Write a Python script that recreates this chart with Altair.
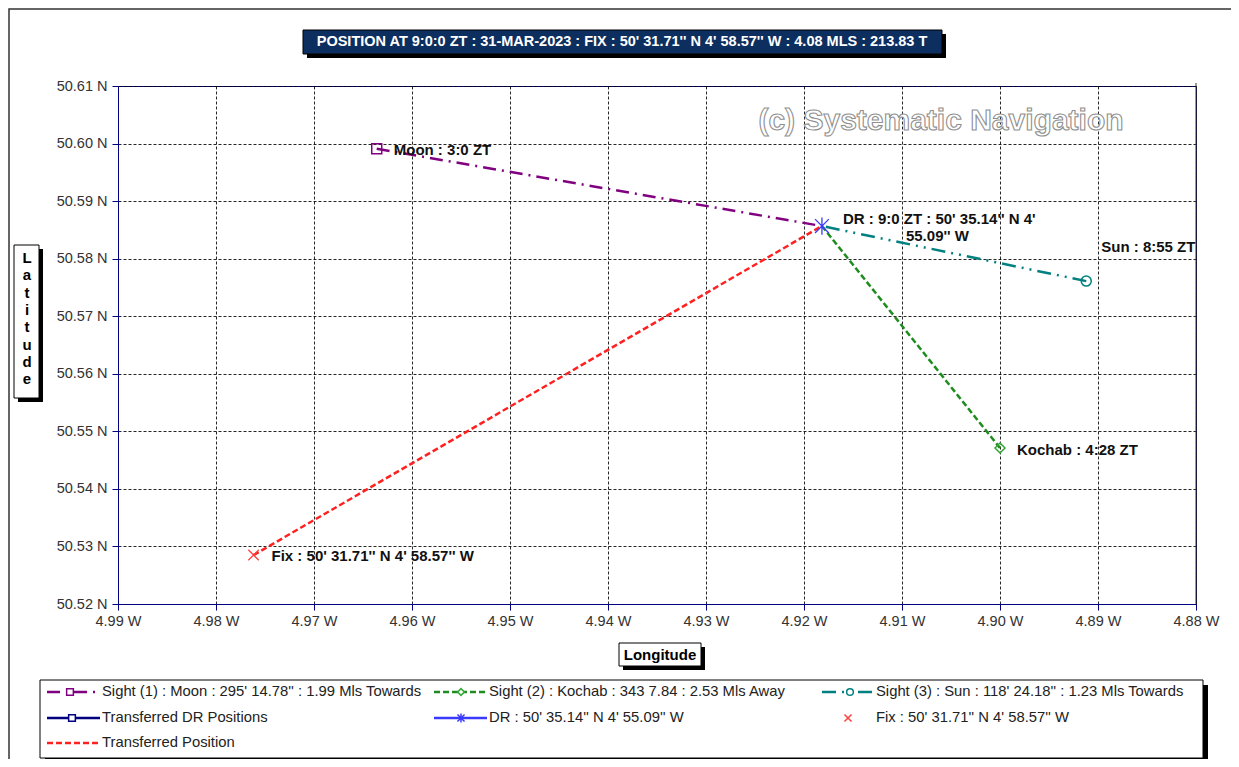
import altair as alt
import pandas as pd

# ---------------- data ----------------
sight_names = ["Moon", "Kochab", "Sun"]
sight_times = ["3:0 ZT", "4:28 ZT", "8:55 ZT"]
sight_lon = [4.9636, 4.9000, 4.8912]
sight_lat = [50.5991, 50.5471, 50.5761]
sight_colors = ["#800080", "#1e8c1e", "#008080"]
marker_colors = ["#800080", "#33a833", "#008080"]
sight_shapes = ["square", "diamond", "circle"]
sight_dash = [[13, 6, 2, 6], [6, 3], [14, 6, 2, 6, 2, 6]]

dr_lon = [4.91817]
dr_lat = [50.58567]
dr_text = ["DR : 9:0 ZT : 50' 35.14'' N 4'", "55.09'' W"]
fix_lon = [4.97617]
fix_lat = [50.5285]
fix_text = "Fix : 50' 31.71'' N 4' 58.57'' W"

x_ticks = [4.99, 4.98, 4.97, 4.96, 4.95, 4.94, 4.93, 4.92, 4.91, 4.90, 4.89, 4.88]
y_ticks = [50.52, 50.53, 50.54, 50.55, 50.56, 50.57, 50.58, 50.59, 50.60, 50.61]

title_text = "POSITION AT 9:0:0 ZT : 31-MAR-2023 : FIX : 50' 31.71'' N 4' 58.57'' W  : 4.08 MLS : 213.83 T"
legend_labels = [
    "Sight (1) : Moon : 295' 14.78'' : 1.99 Mls Towards",
    "Sight (2) : Kochab : 343 7.84 : 2.53 Mls Away",
    "Sight (3) : Sun : 118' 24.18'' : 1.23 Mls Towards",
    "Transferred DR Positions",
    "DR : 50' 35.14'' N 4' 55.09'' W",
    "Fix : 50' 31.71'' N 4' 58.57'' W",
    "Transferred Position",
]

FONT = "Liberation Sans, Arial, sans-serif"
W, H = 1078, 518
OX, OY = 118, 86  # page position of plot origin

def px(v):
    return v - OX

def py(v):
    return v - OY

ASTERISK = "M-1,-1L1,1M1,-1L-1,1M0,-1.25L0,1.25"
CROSS = "M-1,-1L1,1M1,-1L-1,1"

x_enc = alt.X("lon:Q", title=None,
              scale=alt.Scale(domain=[4.88, 4.99], reverse=True, nice=False, zero=False),
              axis=alt.Axis(values=x_ticks, labelExpr="format(datum.value, '.2f') + ' W'",
                            grid=True, labelFlush=False))
y_enc = alt.Y("lat:Q", title=None,
              scale=alt.Scale(domain=[50.52, 50.61], nice=False, zero=False),
              axis=alt.Axis(values=y_ticks, labelExpr="format(datum.value, '.2f') + ' N'",
                            grid=True, labelFlush=False))

one = pd.DataFrame({"a": [0]})
layers = []

# ---------------- sight lines ----------------
for i in range(3):
    d = pd.DataFrame({"lon": [sight_lon[i], dr_lon[0]], "lat": [sight_lat[i], dr_lat[0]], "o": [0, 1]})
    layers.append(alt.Chart(d).mark_line(color=sight_colors[i], strokeWidth=2.5,
                                         strokeDash=sight_dash[i]).encode(x=x_enc, y=y_enc, order="o:Q"))

# transferred position line (fix -> DR)
d_tp = pd.DataFrame({"lon": [fix_lon[0], dr_lon[0]], "lat": [fix_lat[0], dr_lat[0]], "o": [0, 1]})
layers.append(alt.Chart(d_tp).mark_line(color="#ff2020", strokeWidth=2.5, strokeDash=[6, 3])
              .encode(x=x_enc, y=y_enc, order="o:Q"))

# sight markers
for i in range(3):
    d = pd.DataFrame({"lon": [sight_lon[i]], "lat": [sight_lat[i]]})
    layers.append(alt.Chart(d).mark_point(shape=sight_shapes[i], filled=False, color=marker_colors[i],
                                          strokeWidth=1.5, size=100, opacity=1).encode(x=x_enc, y=y_enc))

# DR marker
d_dr = pd.DataFrame({"lon": dr_lon, "lat": dr_lat})
layers.append(alt.Chart(d_dr).mark_point(shape=ASTERISK, filled=False, color="#3a3aff",
                                         strokeWidth=1.3, size=190, opacity=1).encode(x=x_enc, y=y_enc))
# Fix marker
d_fix = pd.DataFrame({"lon": fix_lon, "lat": fix_lat})
layers.append(alt.Chart(d_fix).mark_point(shape=CROSS, filled=False, color="#ff4040",
                                          strokeWidth=1.3, size=110, opacity=1).encode(x=x_enc, y=y_enc))

# ---------------- point annotations ----------------
lab_style = dict(font=FONT, fontSize=15, fontWeight="bold", color="#111111", align="left", baseline="middle")
label_rows = [
    (sight_lon[0], sight_lat[0], sight_names[0] + " : " + sight_times[0], 17, 1),
    (sight_lon[1], sight_lat[1], sight_names[1] + " : " + sight_times[1], 17, 2),
    (sight_lon[2], sight_lat[2], sight_names[2] + " : " + sight_times[2], 15, -34),
    (dr_lon[0], dr_lat[0], dr_text[0], 21, -7),
    (dr_lon[0], dr_lat[0], dr_text[1], 84, 10),
    (fix_lon[0], fix_lat[0], fix_text, 18, 1),
]
for lon, lat, txt, dx, dy in label_rows:
    d = pd.DataFrame({"lon": [lon], "lat": [lat], "t": [txt]})
    layers.append(alt.Chart(d).mark_text(dx=dx, dy=dy, **lab_style).encode(x=x_enc, y=y_enc, text="t:N"))

# watermark
layers.append(alt.Chart(one).mark_text(text="(c) Systematic Navigation", font=FONT, fontSize=30,
                                       fontWeight="bold", fill="white", stroke="#8f8f8f", strokeWidth=1.1,
                                       align="center", baseline="middle")
              .encode(x=alt.value(px(941)), y=alt.value(py(121))))

# right border of plot (dark)
layers.append(alt.Chart(one).mark_rule(color="#333333", strokeWidth=1)
              .encode(x=alt.value(W), y=alt.value(-3), y2=alt.value(H)))

# ---------------- frame / boxes ----------------
def box(x1, y1, x2, y2, fill, stroke="#000000", shadow=4, sw=1):
    out = []
    if shadow:
        out.append(alt.Chart(one).mark_rect(fill="#000000")
                   .encode(x=alt.value(px(x1 + shadow)), x2=alt.value(px(x2 + shadow)),
                           y=alt.value(py(y1 + shadow)), y2=alt.value(py(y2 + shadow))))
    out.append(alt.Chart(one).mark_rect(fill=fill, stroke=stroke, strokeWidth=sw)
               .encode(x=alt.value(px(x1)), x2=alt.value(px(x2)),
                       y=alt.value(py(y1)), y2=alt.value(py(y2))))
    return out

# outer frame
layers.append(alt.Chart(one).mark_rect(fill=None, stroke="#333333", strokeWidth=1.5, filled=False)
              .encode(x=alt.value(px(9)), x2=alt.value(px(1300)), y=alt.value(py(9)), y2=alt.value(py(900))))

# title box
layers += box(303, 30, 942, 54, "#0d2f5f")
layers.append(alt.Chart(one).mark_text(text=title_text, font=FONT, fontSize=14.5, fontWeight="bold",
                                       color="white", align="center", baseline="middle")
              .encode(x=alt.value(px(622)), y=alt.value(py(42))))

# Latitude box
layers += box(14, 245, 39, 398, "white")
layers.append(alt.Chart(one).mark_text(text=list("Latitude"), font=FONT, fontSize=15, fontWeight="bold",
                                       color="black", align="center", baseline="top", lineHeight=17.3)
              .encode(x=alt.value(px(27)), y=alt.value(py(251))))

# Longitude box
layers += box(619, 643, 701, 666, "white")
layers.append(alt.Chart(one).mark_text(text="Longitude", font=FONT, fontSize=15, fontWeight="bold",
                                       color="black", align="center", baseline="middle")
              .encode(x=alt.value(px(660)), y=alt.value(py(655))))

# ---------------- legend ----------------
layers += box(40, 680, 1203, 758, "white", shadow=5)

leg_items = [
    # (line_x1, line_x2, marker_x, y, color, dash, shape, marker_color, text_x)
    (47, 100, 70, 692, sight_colors[0], sight_dash[0], "square", marker_colors[0], 102),
    (434, 487, 461, 692, sight_colors[1], sight_dash[1], "diamond", marker_colors[1], 489),
    (822, 874, 850, 692, sight_colors[2], sight_dash[2], "circle", marker_colors[2], 876),
    (47, 100, 72, 718, "#000080", None, "square", "#000080", 102),
    (434, 487, 461, 718, "#3a3aff", None, ASTERISK, "#3a3aff", 489),
    (None, None, 848, 718, "#ff4040", None, CROSS, "#ff4040", 876),
    (47, 100, None, 743, "#ff2020", [6, 3], None, None, 102),
]
for (x1, x2, mx, yy, col, dash, shape, mcol, tx), label in zip(leg_items, legend_labels):
    if x1 is not None:
        kw = dict(color=col, strokeWidth=2.5)
        if dash:
            kw["strokeDash"] = dash
        layers.append(alt.Chart(one).mark_rule(**kw)
                      .encode(x=alt.value(px(x1)), x2=alt.value(px(x2)), y=alt.value(py(yy))))
    if shape is not None:
        simple = shape not in (ASTERISK, CROSS)
        layers.append(alt.Chart(one).mark_point(shape=shape, filled=simple,
                                                fill="white", color=mcol, stroke=mcol, strokeWidth=1.5,
                                                size=45 if simple else 50, opacity=1)
                      .encode(x=alt.value(px(mx)), y=alt.value(py(yy))))
    layers.append(alt.Chart(one).mark_text(text=label, font=FONT, fontSize=14.8, color="#222222",
                                           align="left", baseline="middle")
                  .encode(x=alt.value(px(tx)), y=alt.value(py(yy))))

chart = alt.layer(*layers).properties(
    width=W, height=H,
    autosize=alt.AutoSizeParams(type="none"),
    padding={"left": 110, "top": 78, "right": 35, "bottom": 155},
    background="white",
).configure_view(
    stroke="#000080", strokeWidth=1
).configure_axis(
    domainColor="#000080", domainWidth=1, tickColor="#000080", tickSize=6, tickWidth=1,
    gridColor="#000000", gridDash=[3, 2], gridWidth=1, gridOpacity=0.85,
    labelFont=FONT, labelFontSize=14.5, labelColor="#333333",
).configure_axisY(labelPadding=5).configure_axisX(labelPadding=4)

chart.save("out.html", embed_options={"renderer": "svg", "actions": False})
